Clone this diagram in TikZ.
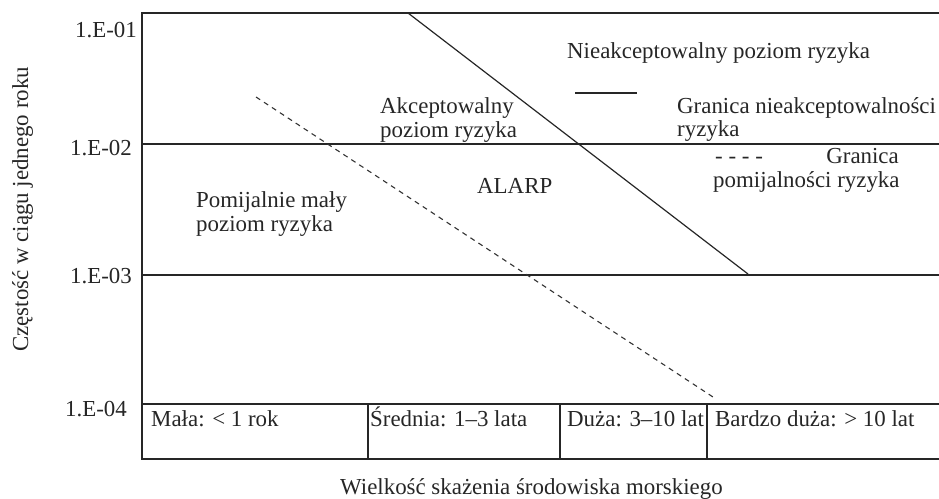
\documentclass[tikz,border=0pt]{standalone}
\usepackage{fontspec}
\setmainfont{Liberation Serif}
\begin{document}
\begin{tikzpicture}[x=1pt,y=-1pt,
  frame/.style={line width=1.3pt, draw=black!85},
  limit/.style={line width=1.2pt, draw=black!85},
  neglim/.style={line width=1.1pt, draw=black!80, dash pattern=on 5pt off 4.5pt},
  lbl/.style={inner sep=0pt, anchor=base west, text=black!85, font=\fontsize{22.9}{24}\selectfont},
  tick/.style={inner sep=0pt, anchor=base east, text=black!85, font=\fontsize{22.9}{24}\selectfont}]
\useasboundingbox (0,0) rectangle (939,498);
% frame
\coordinate (tl) at (142,13);
\coordinate (tr) at (939,13);
\coordinate (bl) at (142,459);
\coordinate (br) at (939,459);
\coordinate (l2) at (142,144); \coordinate (r2) at (939,144);
\coordinate (l3) at (142,275); \coordinate (r3) at (939,275);
\coordinate (l4) at (142,404); \coordinate (r4) at (939,404);
\draw[frame] (tr) -- (tl) -- (bl) -- (br);
\draw[frame] (l2) -- (r2);
\draw[frame] (l3) -- (r3);
\draw[frame] (l4) -- (r4);
\foreach \xx/\nm in {368/a,560/b,707/c}{
  \coordinate (d\nm t) at (\xx,404);
  \coordinate (d\nm b) at (\xx,459);
  \draw[frame] (d\nm t) -- (d\nm b);
}
% limit lines
\coordinate (s1) at (408,13);
\coordinate (s2) at (748,274);
\draw[limit] (s1) -- (s2);
\coordinate (n1) at (256,97);
\coordinate (n2) at (713,397);
\draw[neglim] (n1) -- (n2);
% legend line
\coordinate (lg1) at (575,93);
\coordinate (lg2) at (637,93);
\draw[limit] (lg1) -- (lg2);
% tick labels
\node[tick] (t1) at (137,37) {1.E-01};
\node[tick] (t2) at (132,155) {1.E-02};
\node[tick] (t3) at (132,283) {1.E-03};
\node[tick] (t4) at (127,416) {1.E-04};
% region labels
\node[lbl] (unacc) at (567,58) {Nieakceptowalny poziom ryzyka};
\node[lbl] (acc1) at (380,113) {Akceptowalny};
\node[lbl] (acc2) at (380,137) {poziom ryzyka};
\node[lbl] (alarp) at (477,193) {ALARP};
\node[lbl] (neg1) at (196,207) {Pomijalnie mały};
\node[lbl] (neg2) at (196,231) {poziom ryzyka};
% legend texts
\node[lbl] (gu1) at (677,113) {Granica nieakceptowalności};
\node[lbl] (gu2) at (677,136) {ryzyka};
\node[lbl] (gd0) at (715,163) {- - - -};
\node[lbl, anchor=base east] (gd1) at (899,163) {Granica};
\node[lbl] (gd2) at (713,187) {pomijalności ryzyka};
% category labels
\node[lbl] (c1) at (151,426) {Mała: < 1 rok};
\node[lbl] (c2) at (370,426) {Średnia: 1–3 lata};
\node[lbl] (c3) at (567,426) {Duża: 3–10 lat};
\node[lbl] (c4) at (715,426) {Bardzo duża: > 10 lat};
% axis titles
\node[lbl] (xt) at (340,494) {Wielkość skażenia środowiska morskiego};
\node[lbl, rotate=90] (yt) at (28,352) {Częstość w ciągu jednego roku};
\end{tikzpicture}
\end{document}
